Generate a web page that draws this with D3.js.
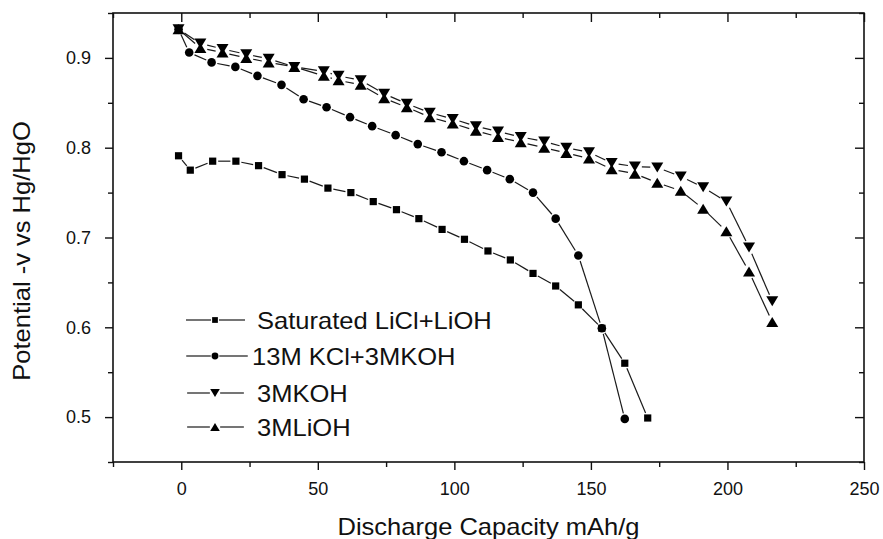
<!DOCTYPE html>
<html lang="en">
<head>
    <meta charset="UTF-8">
    <title>Discharge curves</title>
    <script type="text/javascript" src="https://cdn.jsdelivr.net/npm/d3@7"></script>
    <style>
        body { margin: 0; background: #fff; }
        text { font-family: "Liberation Sans", Arial, sans-serif; fill: #111; }
    </style>
</head>
<body>
<script>
    var capLiCl = [-1, 3.3, 11.5, 20, 28.3, 36.9, 45.1, 53.7, 62.1, 70.3, 78.8, 87.0, 95.5,
        103.7, 112.3, 120.5, 128.8, 137.1, 145.4, 154.0, 162.4, 170.8];
    var potLiCl = [0.791, 0.775, 0.785, 0.785, 0.780, 0.770, 0.765, 0.755, 0.750, 0.740, 0.731,
        0.721, 0.709, 0.698, 0.685, 0.675, 0.660, 0.646, 0.625, 0.599, 0.560, 0.499];

    var capKCl = [-1, 2.9, 11.1, 19.8, 27.9, 36.7, 44.8, 53.2, 61.8, 69.9, 78.5, 86.6, 95.3,
        103.5, 112.0, 120.3, 128.8, 137.1, 145.4, 154.0, 162.4];
    var potKCl = [0.932, 0.906, 0.895, 0.890, 0.880, 0.870, 0.854, 0.845, 0.834, 0.824, 0.814,
        0.804, 0.795, 0.785, 0.775, 0.765, 0.750, 0.721, 0.680, 0.599, 0.498];

    var capHydrox = [-1, 7.0, 15.1, 23.8, 32.0, 41.4, 52.2, 57.6, 65.7, 74.3, 82.6, 91.0, 99.4,
        107.9, 116.0, 124.3, 132.9, 141.0, 149.3, 157.6, 166.1, 174.3, 182.9, 191.1, 199.6, 207.9, 216.4];
    var potKOH = [0.932, 0.916, 0.910, 0.904, 0.899, 0.890, 0.885, 0.880, 0.875, 0.860, 0.849,
        0.839, 0.832, 0.824, 0.818, 0.812, 0.807, 0.800, 0.795, 0.783, 0.779, 0.778, 0.768,
        0.756, 0.740, 0.689, 0.629];
    var potLiOH = [0.932, 0.911, 0.906, 0.900, 0.895, 0.890, 0.880, 0.875, 0.870, 0.855, 0.845,
        0.834, 0.827, 0.819, 0.812, 0.806, 0.800, 0.794, 0.788, 0.776, 0.771, 0.761, 0.752,
        0.732, 0.707, 0.662, 0.606];

    var seriesNames = ["Saturated LiCl+LiOH", "13M KCl+3MKOH", "3MKOH", "3MLiOH"];
    var xMajor = [0, 50, 100, 150, 200, 250];
    var xMinor = [-25, 25, 75, 125, 175, 225];
    var yMajor = [0.5, 0.6, 0.7, 0.8, 0.9];
    var yMinor = [0.45, 0.55, 0.65, 0.75, 0.85, 0.95];

    var w = 883, h = 539;
    // plot frame (window.top is taken, so prefixed names)
    var pLeft = 113, pRight = 864, pTop = 13, pBottom = 462;

    var svg = d3.select("body").append("svg")
        .attr("width", w)
        .attr("height", h);

    var x = d3.scaleLinear().domain([-25, 250]).range([pLeft, pRight]);
    var y = d3.scaleLinear().domain([0.45, 0.95]).range([pBottom, pTop]);

    // markers: square, circle, down triangle, up triangle
    var shapes = [
        { r: 4, path: "M-3.6,-3.6H3.6V3.6H-3.6Z" },
        { r: 4.3, path: d3.symbol(d3.symbolCircle, 58)() },
        { r: 5.5, path: "M-6,-5H6L0,5Z" },
        { r: 5.5, path: "M0,-5L6,5H-6Z" }
    ];

    var series = [
        { xs: capLiCl, ys: potLiCl },
        { xs: capKCl, ys: potKCl },
        { xs: capHydrox, ys: potKOH },
        { xs: capHydrox, ys: potLiOH }
    ];

    function stretched(g, tx, ty, str, size, anchor, rot) {
        var t = "translate(" + tx + "," + ty + ")" + (rot ? " rotate(" + rot + ")" : "") + " scale(1.11,1)";
        return g.append("text")
            .attr("transform", t)
            .attr("font-size", size + "px")
            .attr("text-anchor", anchor)
            .text(str);
    }

    // lines broken around markers, Origin style
    function drawSegments(g, pts, gap) {
        for (var i = 0; i < pts.length - 1; i++) {
            var a = pts[i], b = pts[i + 1];
            var dx = b[0] - a[0], dy = b[1] - a[1];
            var len = Math.sqrt(dx * dx + dy * dy);
            if (len < gap * 2 + 1) continue;
            var ux = dx / len, uy = dy / len;
            g.append("line")
                .attr("x1", a[0] + ux * gap).attr("y1", a[1] + uy * gap)
                .attr("x2", b[0] - ux * gap).attr("y2", b[1] - uy * gap)
                .attr("stroke", "#1a1a1a")
                .attr("stroke-width", 1.2);
        }
    }

    var plot = svg.append("g");
    series.forEach(function (s, k) {
        var pts = s.xs.map(function (d, i) { return [x(d), y(s.ys[i])]; });
        drawSegments(plot, pts, shapes[k].r + 1.5);
    });
    series.forEach(function (s, k) {
        plot.selectAll(".m" + k)
            .data(s.xs)
            .enter()
            .append("path")
            .attr("class", "m" + k)
            .attr("d", shapes[k].path)
            .attr("transform", function (d, i) {
                return "translate(" + x(d) + "," + y(s.ys[i]) + ")";
            })
            .attr("fill", "#000");
    });

    // axes
    function styleAxis(g) {
        g.select(".domain").remove();
        g.selectAll("line").attr("stroke", "#111").attr("stroke-width", 1.4);
        g.selectAll("text").attr("font-size", "18px").attr("fill", "#111")
            .attr("font-family", "'Liberation Sans', Arial, sans-serif");
    }

    svg.append("g").attr("transform", "translate(0," + pBottom + ")")
        .call(d3.axisBottom(x).tickValues(xMajor).tickSize(8).tickPadding(12).tickFormat(d3.format("d")))
        .call(styleAxis);
    svg.append("g").attr("transform", "translate(0," + pBottom + ")")
        .call(d3.axisBottom(x).tickValues(xMinor).tickSize(5).tickFormat(""))
        .call(styleAxis);
    svg.append("g").attr("transform", "translate(0," + pTop + ")")
        .call(d3.axisBottom(x).tickValues(xMajor).tickSize(9).tickFormat(""))
        .call(styleAxis);
    svg.append("g").attr("transform", "translate(0," + pTop + ")")
        .call(d3.axisBottom(x).tickValues(xMinor).tickSize(5).tickFormat(""))
        .call(styleAxis);

    svg.append("g").attr("transform", "translate(" + pLeft + ",0)")
        .call(d3.axisLeft(y).tickValues(yMajor).tickSize(8).tickPadding(14).tickFormat(d3.format(".1f")))
        .call(styleAxis);
    svg.append("g").attr("transform", "translate(" + pLeft + ",0)")
        .call(d3.axisLeft(y).tickValues(yMinor).tickSize(5).tickFormat(""))
        .call(styleAxis);
    svg.append("g").attr("transform", "translate(" + pRight + ",0)")
        .call(d3.axisLeft(y).tickValues(yMajor).tickSize(9).tickFormat(""))
        .call(styleAxis);
    svg.append("g").attr("transform", "translate(" + pRight + ",0)")
        .call(d3.axisLeft(y).tickValues(yMinor).tickSize(5).tickFormat(""))
        .call(styleAxis);

    svg.append("rect")
        .attr("x", pLeft).attr("y", pTop)
        .attr("width", pRight - pLeft).attr("height", pBottom - pTop)
        .attr("fill", "none")
        .attr("stroke", "#111")
        .attr("stroke-width", 1.6);

    // titles
    stretched(svg, (pLeft + pRight) / 2, 535, "Discharge Capacity mAh/g", 23, "middle");
    stretched(svg, 30, 251, "Potential -v vs Hg/HgO", 23, "middle", -90);

    // legend
    var legY = [320, 356, 393, 427];
    var legEnd = [249, 252, 249, 249];
    var legText = [257, 252, 257, 257];
    var leg = svg.append("g");
    seriesNames.forEach(function (name, k) {
        drawSegments(leg, [[182, legY[k]], [215, legY[k]], [legEnd[k], legY[k]]], shapes[k].r * 0.75 + 1);
        leg.append("path")
            .attr("d", shapes[k].path)
            .attr("transform", "translate(215," + legY[k] + ") scale(0.8)")
            .attr("fill", "#000");
        stretched(leg, legText[k], legY[k] + 8.5, name, 23, "start");
    });
</script>
</body>
</html>
